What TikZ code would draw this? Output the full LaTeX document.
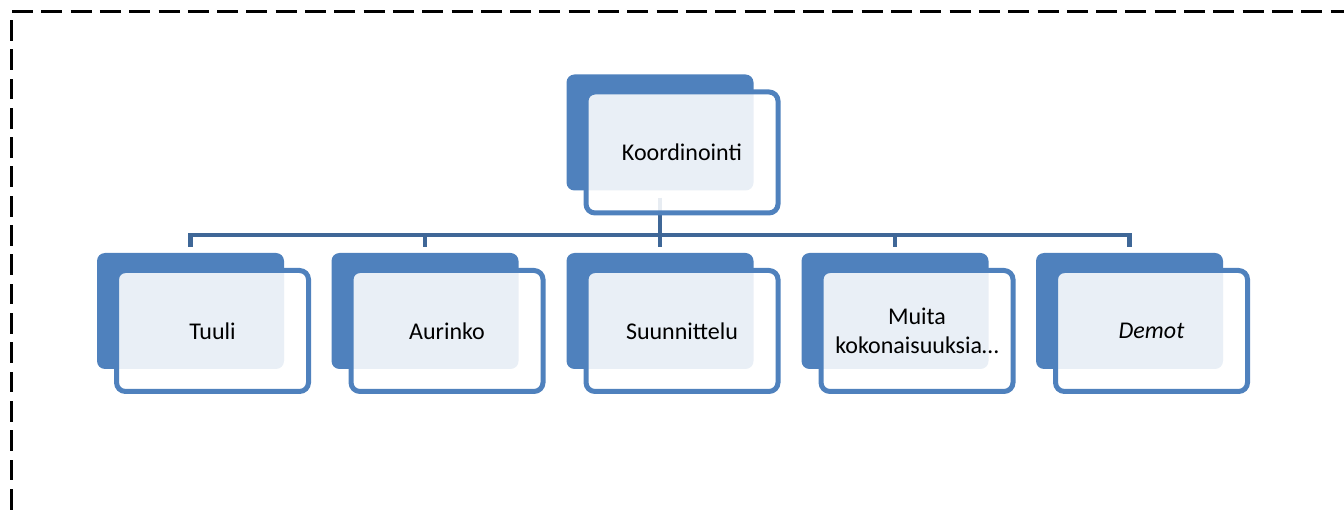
\documentclass[tikz,border=0pt]{standalone}
\usepackage{fontspec}
\setmainfont{Carlito}
\definecolor{boxblue}{HTML}{4F81BD}
\definecolor{connblue}{HTML}{3F6797}
\begin{document}
\begin{tikzpicture}[x=1pt,y=-1pt,
  back/.style={fill=boxblue, rounded corners=8pt, minimum width=187pt, minimum height=116pt, inner sep=0pt},
  front/.style={draw=boxblue, line width=5pt, fill=white, fill opacity=0.88, text opacity=1, rounded corners=9pt,
     minimum width=192pt, minimum height=121pt, inner sep=0pt, align=center, font=\fontsize{24}{29}\selectfont},
  conn/.style={draw=connblue, line width=4.5pt, line join=miter},
  border/.style={draw=black, line width=3pt, dash pattern=on 21pt off 8.3pt},
  dashbit/.style={fill=black}]
\useasboundingbox (0,0) rectangle (1344,518);
% dashed frame: top edge
\coordinate (c0) at (12,12);
\coordinate (c1) at (1344,12);
\draw[border] (c0) -- (c1);
% dashed frame: left edge, dash by dash
\foreach \k in {0,...,16} {
  \fill[dashbit] (9.5,{20+29.3*\k}) rectangle (12.5,{min(518,40.8+29.3*\k)});
}
% back boxes
\node[back] (tdk) at (660,132.5) {};
\node[back] (dk1) at (190.5,311) {};
\node[back] (dk2) at (425,311) {};
\node[back] (dk3) at (660,311) {};
\node[back] (dk4) at (895,311) {};
\node[back] (dk5) at (1129.5,311) {};
% connectors
\coordinate (bar) at (0,235);
\draw[conn] ([yshift=-7pt]tdk.south) -- (tdk.south |- bar);
\draw[conn] ([yshift=6pt]dk1.north) -- (dk1.north |- bar) -- (dk5.north |- bar) -- ([yshift=6pt]dk5.north);
\foreach \i in {2,3,4} {\draw[conn] (dk\i.north |- bar) -- ([yshift=6pt]dk\i.north);}
% front boxes
\node[front] (top) at (682,152.5) {Koordinointi};
\node[front] (f1) at (212.5,331) {Tuuli};
\node[front] (f2) at (447,331) {Aurinko};
\node[front] (f3) at (682,331) {Suunnittelu};
\node[front] (f4) at (917,331) {Muita\\kokonaisuuksia…};
\node[front] (f5) at (1151.5,331) {\itshape Demot};
\end{tikzpicture}
\end{document}
